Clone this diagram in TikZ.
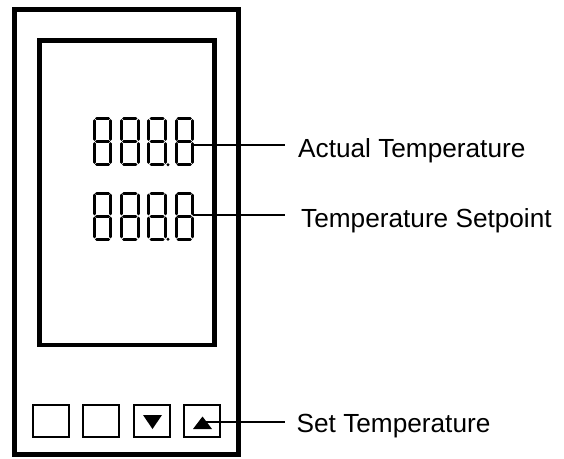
\documentclass[tikz,border=0pt]{standalone}
\usepackage{fontspec}
\setmainfont{Liberation Sans}
\begin{document}
\begin{tikzpicture}[x=1pt,y=-1pt,
  outerframe/.style={draw=black,line width=5pt},
  innerframe/.style={draw=black,line width=4.5pt},
  keybox/.style={draw=black,line width=2pt},
  seg/.style={line width=3pt,line cap=round},
  wire/.style={draw=black,line width=2.4pt},
  label/.style={anchor=base west,inner sep=0pt,font=\fontsize{26.2pt}{31pt}\selectfont}]
\useasboundingbox (0,0) rectangle (564,458);
\newcommand\segdigit[2]{%
  \begin{scope}[shift={(#1,#2)}]
    \draw[seg] (3.7,1.5) -- (15.8,1.5);
    \draw[seg] (3.7,24.5) -- (15.8,24.5);
    \draw[seg] (3.7,47.5) -- (15.8,47.5);
    \draw[seg] (1.5,3.7) -- (1.5,22.3);
    \draw[seg] (18,3.7) -- (18,22.3);
    \draw[seg] (1.5,26.7) -- (1.5,45.3);
    \draw[seg] (18,26.7) -- (18,45.3);
  \end{scope}}
\newcommand\segdisplay[1]{%
  \segdigit{92.8}{#1}\segdigit{120}{#1}\segdigit{147.3}{#1}\segdigit{174.5}{#1}%
  \fill (168,#1+47.8) circle (1.6);}
% frames
\draw[outerframe] (14.5,9.5) rectangle (238.5,454.5);
\draw[innerframe] (39.5,40.5) rectangle (214.5,345);
% displays
\segdisplay{117}
\segdisplay{191.5}
% keys
\node[keybox,minimum width=36pt,minimum height=32pt,inner sep=0pt] (k1) at (51,421) {};
\node[keybox,minimum width=36pt,minimum height=32pt,inner sep=0pt] (k2) at (101,421) {};
\node[keybox,minimum width=36pt,minimum height=32pt,inner sep=0pt] (k3) at (152,421) {};
\node[keybox,minimum width=36pt,minimum height=32pt,inner sep=0pt] (k4) at (202,421) {};
\fill (143,415) -- (162,415) -- (152.5,429) -- cycle;
\fill (193,429) -- (212,429) -- (202.5,416.5) -- cycle;
% labels
\node[label] (t1) at (298,157) {Actual Temperature};
\node[label] (t2) at (301,227) {Temperature Setpoint};
\node[label] (t3) at (296.5,432) {Set Temperature};
% connectors
\coordinate (d1) at (192.5,145);
\coordinate (d2) at (192.5,215);
\coordinate (d3) at (203,422);
\coordinate (e1) at (285,145);
\coordinate (e2) at (285,215);
\coordinate (e3) at (285,422);
\draw[wire] (d1) -- (e1);
\draw[wire] (d2) -- (e2);
\draw[wire] (d3) -- (e3);
\end{tikzpicture}
\end{document}
